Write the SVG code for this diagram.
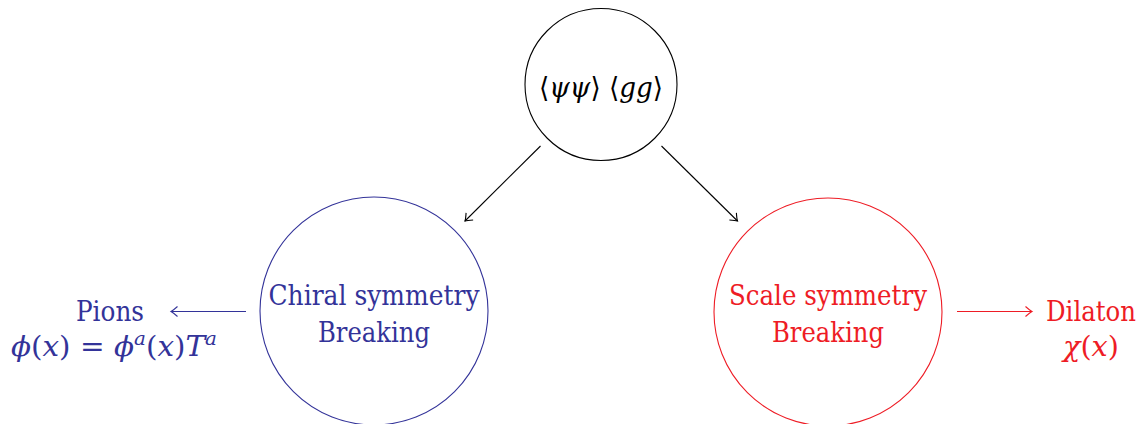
<svg xmlns="http://www.w3.org/2000/svg" width="1142" height="424" viewBox="0 0 1142 424">
<defs>
<style>
text{font-family:'DejaVu Serif',serif;font-size:28px;text-anchor:middle}
.i{font-style:italic}
.blue{fill:#333399}
.red{fill:#ee1c25}
.edge{fill:none;stroke-width:1.1}
</style>
<marker id="ak" markerUnits="userSpaceOnUse" markerWidth="14" markerHeight="14" viewBox="-8 -7 10 14" refX="0" refY="0" orient="auto">
<path d="M-6.5,-5 Q-2,-1 0,0 Q-2,1 -6.5,5" fill="none" stroke="#000" stroke-width="1.1"/>
</marker>
<marker id="ab" markerUnits="userSpaceOnUse" markerWidth="14" markerHeight="14" viewBox="-8 -7 10 14" refX="0" refY="0" orient="auto">
<path d="M-6.5,-5 Q-2,-1 0,0 Q-2,1 -6.5,5" fill="none" stroke="#333399" stroke-width="1.1"/>
</marker>
<marker id="ar" markerUnits="userSpaceOnUse" markerWidth="14" markerHeight="14" viewBox="-8 -7 10 14" refX="0" refY="0" orient="auto">
<path d="M-6.5,-5 Q-2,-1 0,0 Q-2,1 -6.5,5" fill="none" stroke="#ee1c25" stroke-width="1.1"/>
</marker>
</defs>
<rect width="1142" height="424" fill="#fff"/>
<g id="condensates">
<circle cx="601" cy="84.5" r="76" fill="none" stroke="#000" stroke-width="1.1"/>
<text x="601" y="97" textLength="124" lengthAdjust="spacingAndGlyphs">⟨<tspan class="i">ψψ</tspan>⟩ ⟨<tspan class="i">gg</tspan>⟩</text>
</g>
<g id="chiral">
<circle cx="374" cy="311" r="114" fill="none" stroke="#333399" stroke-width="1.1"/>
<text class="blue" x="374" y="305" textLength="211" lengthAdjust="spacingAndGlyphs">Chiral symmetry</text>
<text class="blue" x="374" y="342" textLength="112" lengthAdjust="spacingAndGlyphs">Breaking</text>
</g>
<g id="scale">
<circle cx="828" cy="312" r="114" fill="none" stroke="#ee1c25" stroke-width="1.1"/>
<text class="red" x="828" y="305" textLength="198" lengthAdjust="spacingAndGlyphs">Scale symmetry</text>
<text class="red" x="828" y="342" textLength="112" lengthAdjust="spacingAndGlyphs">Breaking</text>
</g>
<g id="pions">
<text class="blue" x="110" y="321" textLength="68" lengthAdjust="spacingAndGlyphs">Pions</text>
<text class="blue" x="114" y="356" textLength="206" lengthAdjust="spacingAndGlyphs"><tspan class="i">ϕ</tspan>(<tspan class="i">x</tspan>) = <tspan class="i">ϕ</tspan><tspan class="i" font-size="19" dy="-11">a</tspan><tspan dy="11">(</tspan><tspan class="i">x</tspan>)<tspan class="i">T</tspan><tspan class="i" font-size="19" dy="-11">a</tspan></text>
</g>
<g id="dilaton">
<text class="red" x="1091" y="321" font-size="24" textLength="90" lengthAdjust="spacingAndGlyphs">Dilaton</text>
<text class="red" x="1091" y="356" textLength="56" lengthAdjust="spacingAndGlyphs"><tspan class="i">χ</tspan>(<tspan class="i">x</tspan>)</text>
</g>
<g id="connectors">
<line class="edge" x1="540.5" y1="146" x2="465" y2="221" stroke="#000" marker-end="url(#ak)"/>
<line class="edge" x1="661.5" y1="146" x2="737.5" y2="221" stroke="#000" marker-end="url(#ak)"/>
<line class="edge" x1="246" y1="311.5" x2="171" y2="311.5" stroke="#333399" marker-end="url(#ab)"/>
<line class="edge" x1="957" y1="311.5" x2="1032" y2="311.5" stroke="#ee1c25" marker-end="url(#ar)"/>
</g>
</svg>
